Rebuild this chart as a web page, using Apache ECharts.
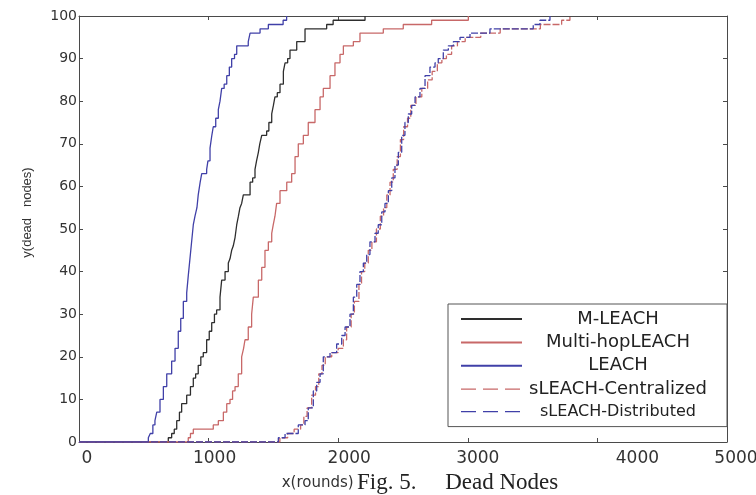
<!DOCTYPE html>
<html><head><meta charset="utf-8">
<script src="https://cdn.jsdelivr.net/npm/echarts/dist/echarts.min.js"></script>
<style>html,body{margin:0;padding:0;background:#fff}#c{width:756px;height:495px}</style>
</head><body><div id="c"></div>
<script>
// ---- data ----
const seriesNames = ['M-LEACH', 'Multi-hopLEACH', 'LEACH', 'sLEACH-Centralized', 'sLEACH-Distributed'];
const xTickLabels = ['0', '1000', '2000', '3000', '4000', '5000'];
const yTickLabels = ['0', '10', '20', '30', '40', '50', '60', '70', '80', '90', '100'];
const xAxisTitle = 'x(rounds)';
const figCaption = 'Fig. 5.     Dead Nodes';
const yAxisTitle = 'y(dead   nodes)';

// [round, dead nodes] – count becomes value at that round
const mLeach = [[0,0],[689,1],[715,2],[735,3],[754,5],[775,7],[792,9],[831,11],[860,13],[882,15],[900,16],[920,18],[940,20],[959,21],[985,24],[1005,26],[1024,28],[1045,30],[1062,31],[1088,34],[1101,38],[1127,40],[1152,42],[1165,43],[1178,45],[1190,46],[1204,48],[1217,51],[1230,53],[1242,55],[1255,56],[1268,58],[1320,61],[1340,62],[1358,64],[1370,66],[1384,68],[1395,70],[1410,72],[1448,73],[1465,75],[1487,77],[1500,79],[1512,81],[1530,82],[1551,84],[1577,87],[1590,89],[1610,90],[1628,92],[1680,94],[1744,97],[1911,98],[1961,99],[2207,100]];
const multiHopLeach = [[0,0],[843,1],[860,2],[882,3],[1036,4],[1075,5],[1114,7],[1140,9],[1165,10],[1185,12],[1204,13],[1229,16],[1255,20],[1270,22],[1281,24],[1306,27],[1332,30],[1345,34],[1384,38],[1410,41],[1435,45],[1461,47],[1487,49],[1499,51],[1512,53],[1525,56],[1551,59],[1603,61],[1641,63],[1667,67],[1692,70],[1731,72],[1769,75],[1821,78],[1860,81],[1885,83],[1937,86],[1975,89],[2014,91],[2040,93],[2117,94],[2168,96],[2348,97],[2502,98],[2721,99],[3004,100]];
const leach = [[0,0],[535,1],[550,2],[570,4],[586,5],[600,7],[625,10],[651,13],[677,16],[715,19],[741,22],[766,26],[785,29],[805,33],[831,35],[843,39],[856,43],[869,47],[882,51],[895,53],[910,55],[920,58],[935,61],[947,63],[985,64],[995,66],[1011,69],[1025,72],[1036,74],[1055,76],[1075,78],[1088,80],[1101,83],[1120,84],[1140,86],[1160,88],[1178,90],[1200,91],[1217,93],[1306,94],[1320,96],[1397,97],[1461,98],[1575,99],[1602,100]];
const sLeachCentralized = [[0,0],[1550,1],[1610,2],[1660,3],[1710,4],[1735,6],[1760,8],[1795,11],[1825,13],[1850,16],[1875,18],[1900,20],[1950,21],[2000,22],[2040,24],[2065,27],[2100,30],[2125,33],[2160,37],[2180,40],[2205,42],[2232,45],[2260,47],[2295,50],[2325,53],[2350,55],[2375,58],[2400,61],[2425,64],[2455,67],[2480,71],[2505,74],[2535,76],[2560,79],[2600,81],[2645,83],[2690,85],[2725,87],[2765,89],[2800,90],[2835,91],[2875,93],[2920,94],[2980,95],[3100,96],[3250,97],[3560,98],[3724,99],[3788,100]];
const sLeachDistributed = [[0,0],[1538,1],[1590,2],[1692,4],[1744,5],[1769,8],[1808,12],[1834,14],[1860,16],[1885,20],[1937,21],[1988,23],[2027,25],[2053,27],[2091,30],[2117,34],[2143,37],[2168,40],[2194,42],[2220,44],[2245,47],[2284,49],[2309,51],[2336,54],[2361,56],[2387,59],[2413,62],[2438,65],[2464,68],[2490,72],[2515,75],[2541,77],[2567,79],[2593,81],[2631,83],[2670,86],[2708,88],[2747,89],[2772,90],[2811,92],[2850,93],[2889,94],[2940,95],[3017,96],[3171,97],[3505,98],[3557,99],[3634,100]];

const seriesData = [mLeach, multiHopLeach, leach, sLeachCentralized, sLeachDistributed];
const seriesColors = ['#2e2e2e', '#c86868', '#4040a8', '#c86868', '#4040a8'];
const dashed = [false, false, false, true, true];

// ---- chart ----
const chart = echarts.init(document.getElementById('c'), null, {renderer: 'canvas'});
const xOffsets = [8, 6, 11, 10, 40, 9];
const xRich = {};
xOffsets.forEach((o, i) => {
  xRich['o' + i] = {padding: [0, 0, 0, 2 * o], fontSize: 17, fontFamily: 'DejaVu Sans', color: '#333'};
});
const axisCol = '#4a4a4a';
const option = {
  animation: false,
  backgroundColor: '#fff',
  grid: {left: 79, right: 29, top: 16, bottom: 53, containLabel: false, outerBoundsMode: 'none'},
  xAxis: [{
    type: 'value', min: 0, max: 5000, interval: 1000, position: 'bottom',
    axisLine: {show: true, onZero: false, lineStyle: {color: axisCol, width: 1}},
    axisTick: {show: true, inside: true, length: 4, lineStyle: {color: axisCol}},
    splitLine: {show: false},
    axisLabel: {
      margin: 8,
      formatter: v => { const i = Math.round(v / 1000); return '{o' + i + '|' + xTickLabels[i] + '}'; },
      rich: xRich
    },
    name: '{a|' + xAxisTitle + '} {b|' + figCaption + '}',
    nameLocation: 'middle', nameGap: 27,
    nameTextStyle: {
      padding: [0, 0, 0, 34],
      rich: {
        a: {fontFamily: 'DejaVu Sans', fontSize: 15, color: '#333', lineHeight: 24},
        b: {fontFamily: 'Liberation Serif', fontSize: 23, color: '#222', lineHeight: 24}
      }
    }
  }, {
    type: 'value', min: 0, max: 5000, interval: 1000, position: 'top',
    axisLine: {show: true, onZero: false, lineStyle: {color: axisCol, width: 1}},
    axisTick: {show: true, inside: true, length: 4, lineStyle: {color: axisCol}},
    axisLabel: {show: false}, splitLine: {show: false}
  }],
  yAxis: [{
    type: 'value', min: 0, max: 100, interval: 10, position: 'left',
    axisLine: {show: true, onZero: false, lineStyle: {color: axisCol, width: 1}},
    axisTick: {show: true, inside: true, length: 4, lineStyle: {color: axisCol}},
    splitLine: {show: false},
    axisLabel: {
      margin: 2, fontSize: 14, fontFamily: 'DejaVu Sans', color: '#333',
      formatter: v => yTickLabels[Math.round(v / 10)]
    },
    name: yAxisTitle, nameLocation: 'middle', nameGap: 45,
    nameTextStyle: {fontFamily: 'Liberation Sans', fontSize: 13, color: '#333', padding: [0, 0, 0, 33]}
  }, {
    type: 'value', min: 0, max: 100, interval: 10, position: 'right',
    axisLine: {show: true, onZero: false, lineStyle: {color: axisCol, width: 1}},
    axisTick: {show: true, inside: true, length: 4, lineStyle: {color: axisCol}},
    axisLabel: {show: false}, splitLine: {show: false}
  }],
  legend: {
    orient: 'vertical', left: 448, top: 304,
    itemGap: 5.4, itemWidth: 61, itemHeight: 14,
    padding: [6, 18, 7, 12],
    backgroundColor: '#fff', borderColor: '#555', borderWidth: 1, borderRadius: 0,
    itemStyle: {opacity: 0, borderWidth: 0},
    data: seriesNames.map((n, i) => dashed[i]
      ? {name: n, lineStyle: {type: [15, 7], width: 1.3, color: seriesColors[i]}}
      : {name: n}),
    formatter: n => (n === 'sLEACH-Distributed' ? '{d|' : '{t|') + n + '}',
    textStyle: {
      color: '#222', fontFamily: 'DejaVu Sans', fontSize: 18,
      rich: {
        t: {width: 182, align: 'center', fontSize: 18, lineHeight: 23.4, fontFamily: 'DejaVu Sans', color: '#222'},
        d: {width: 182, align: 'center', fontSize: 16, lineHeight: 23.4, fontFamily: 'DejaVu Sans', color: '#222'}
      }
    }
  },
  series: seriesNames.map((n, i) => ({
    name: n, type: 'line', step: 'end', symbol: 'none',
    xAxisIndex: 0, yAxisIndex: 0,
    data: seriesData[i],
    itemStyle: {color: seriesColors[i]},
    lineStyle: {color: seriesColors[i], width: 1.3, type: dashed[i] ? [7, 2] : 'solid'},
    z: 2
  }))
};
chart.setOption(option);
</script>
</body></html>
